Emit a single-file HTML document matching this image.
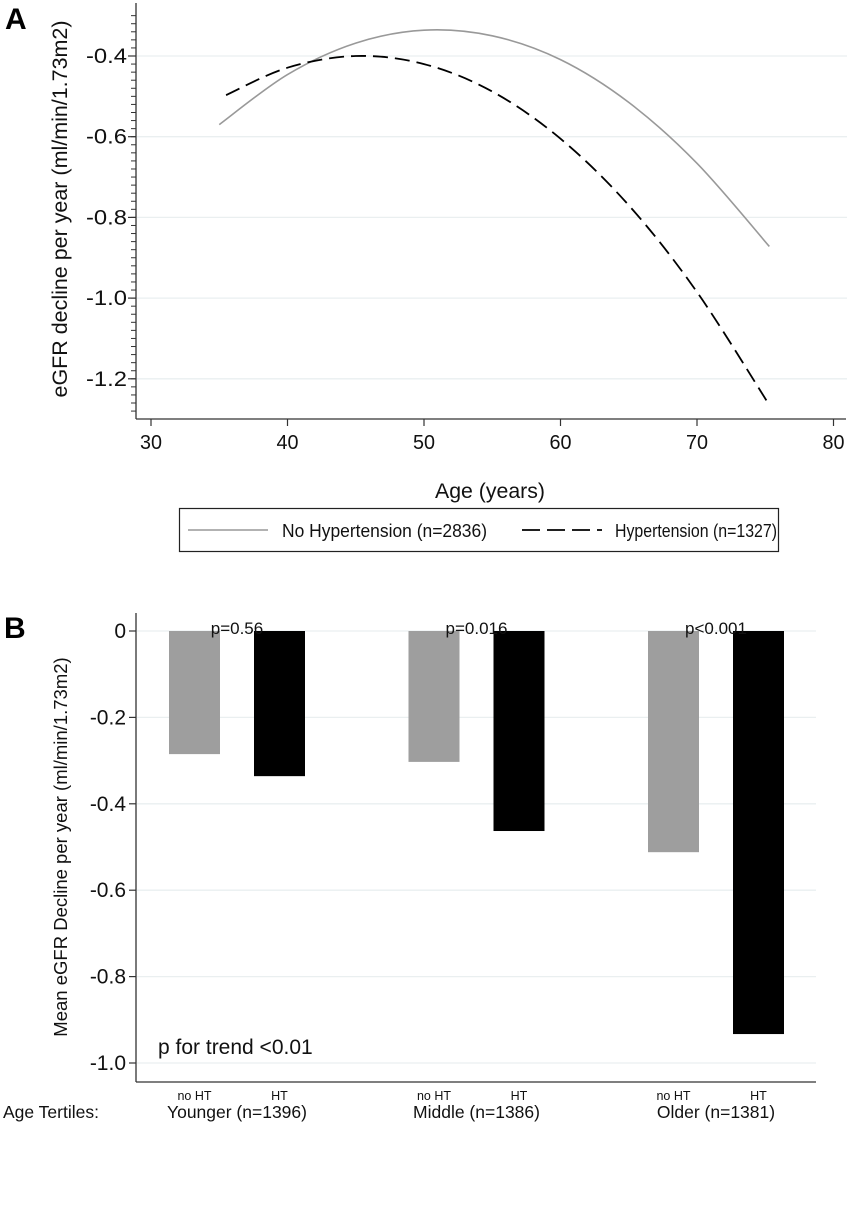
<!DOCTYPE html>
<html><head><meta charset="utf-8">
<style>
html,body{margin:0;padding:0;background:#fff;}
svg{display:block;font-family:"Liberation Sans",Arial,sans-serif;}
</style></head>
<body>
<svg id="fig" width="850" height="1215" viewBox="0 0 850 1215">
<g id="panelA"></g>
<g id="panelB"></g>
</svg>
<script>
// ---- Panel A data ----
const agesNoHT = [35, 40, 45, 50, 55, 60, 65, 70, 75.3];
const valsNoHT = [-0.570, -0.446, -0.368, -0.336, -0.350, -0.409, -0.515, -0.666, -0.872];
const agesHT = [35.5, 40, 45, 50, 55, 60, 65, 70, 75.3];
const valsHT = [-0.497, -0.429, -0.400, -0.420, -0.488, -0.605, -0.770, -0.985, -1.265];
const xTicksA = [30, 40, 50, 60, 70, 80];
const yTicksA = [-0.4, -0.6, -0.8, -1.0, -1.2];
const yTickLabelsA = ["-0.4", "-0.6", "-0.8", "-1.0", "-1.2"];

// ---- Panel B data ----
const groups = ["Younger (n=1396)", "Middle (n=1386)", "Older (n=1381)"];
const meanNoHT = [-0.285, -0.303, -0.512];
const meanHT = [-0.336, -0.463, -0.933];
const pValues = ["p=0.56", "p=0.016", "p<0.001"];
const yTicksB = [0, -0.2, -0.4, -0.6, -0.8, -1.0];
const yTickLabelsB = ["0", "-0.2", "-0.4", "-0.6", "-0.8", "-1.0"];

const NS = "http://www.w3.org/2000/svg";
function mk(parent, tag, attrs, text) {
  const e = document.createElementNS(NS, tag);
  for (const k in attrs) e.setAttribute(k, attrs[k]);
  if (text !== undefined) e.textContent = text;
  parent.appendChild(e);
  return e;
}

// ===== Panel A =====
const A = document.getElementById("panelA");
const xA = v => 151 + (v - 30) * 13.65;
const yA = v => 56 + (-0.4 - v) * 403.5;

yTicksA.forEach(t => {
  const g = mk(A, "line", {x1: 137, x2: 847, y1: yA(t), y2: yA(t), stroke: "#eaeff0", "stroke-width": 1.3});
  
  
});
for (let v = -0.3; v >= -1.3; v -= 0.02) {
  const y = yA(v);
  if (y < 4 || y > 417) continue;
  const m = mk(A, "line", {x1: 131, x2: 136, y1: y, y2: y, stroke: "#333", "stroke-width": 1});
  
  
}
let ax = mk(A, "line", {x1: 136, x2: 136, y1: 3, y2: 419, stroke: "#333", "stroke-width": 1.3});


ax = mk(A, "line", {x1: 136, x2: 846, y1: 419, y2: 419, stroke: "#333", "stroke-width": 1.3});



yTicksA.forEach((t, i) => {
  const tk = mk(A, "line", {x1: 128, x2: 136, y1: yA(t), y2: yA(t), stroke: "#333", "stroke-width": 1.2});
  
  
  const lb = mk(A, "text", {x: 127, y: yA(t) + 7, "text-anchor": "end", "font-size": 21, fill: "#111", textLength: 41, lengthAdjust: "spacingAndGlyphs"}, yTickLabelsA[i]);
  
  
});
xTicksA.forEach(t => {
  const tk = mk(A, "line", {x1: xA(t), x2: xA(t), y1: 419, y2: 426, stroke: "#333", "stroke-width": 1.2});
  
  
  const lb = mk(A, "text", {x: xA(t), y: 449, "text-anchor": "middle", "font-size": 20, fill: "#111", textLength: 22, lengthAdjust: "spacingAndGlyphs"}, String(t));
  
  
});
let t1 = mk(A, "text", {x: 490, y: 498, "text-anchor": "middle", "font-size": 21, fill: "#111", textLength: 110, lengthAdjust: "spacingAndGlyphs"}, "Age (years)");


t1 = mk(A, "text", {x: 0, y: 0, "text-anchor": "middle", "font-size": 21, fill: "#111", textLength: 377, lengthAdjust: "spacingAndGlyphs", transform: "translate(67,209) rotate(-90)"}, "eGFR decline per year (ml/min/1.73m2)");


t1 = mk(A, "text", {x: 5, y: 29, "font-size": 30, "font-weight": "bold", fill: "#000"}, "A");



function smoothPath(xs, ys) {
  const P = xs.map((x, i) => [xA(x), yA(ys[i])]);
  let d = "M" + P[0][0] + "," + P[0][1];
  for (let i = 0; i < P.length - 1; i++) {
    const p0 = P[i - 1] || P[i], p1 = P[i], p2 = P[i + 1], p3 = P[i + 2] || P[i + 1];
    const c1 = [p1[0] + (p2[0] - p0[0]) / 6, p1[1] + (p2[1] - p0[1]) / 6];
    const c2 = [p2[0] - (p3[0] - p1[0]) / 6, p2[1] - (p3[1] - p1[1]) / 6];
    d += " C" + c1 + " " + c2 + " " + p2;
  }
  return d;
}
let ln = mk(A, "path", {d: smoothPath(agesNoHT, valsNoHT), fill: "none", stroke: "#999", "stroke-width": 1.6});


ln = mk(A, "path", {d: smoothPath(agesHT, valsHT), fill: "none", stroke: "#000", "stroke-width": 1.8, "stroke-dasharray": "15 7"});



const lg = mk(A, "g", {});


mk(lg, "rect", {x: 179.5, y: 508.5, width: 599, height: 43, fill: "#fff", stroke: "#222", "stroke-width": 1.2});
let le = mk(lg, "line", {x1: 188, x2: 268, y1: 530, y2: 530, stroke: "#999", "stroke-width": 1.6});


le = mk(lg, "text", {x: 282, y: 537, "font-size": 18, fill: "#111", textLength: 205, lengthAdjust: "spacingAndGlyphs"}, "No Hypertension (n=2836)");


le = mk(lg, "line", {x1: 522, x2: 602, y1: 530, y2: 530, stroke: "#000", "stroke-width": 1.8, "stroke-dasharray": "18 7"});


le = mk(lg, "text", {x: 615, y: 537, "font-size": 18, fill: "#111", textLength: 162, lengthAdjust: "spacingAndGlyphs"}, "Hypertension (n=1327)");



// ===== Panel B =====
const B = document.getElementById("panelB");
const yB = v => 631 - v * 432;
const groupCenter = i => 237 + i * 239.5;
const barW = 51;

yTicksB.forEach((t, i) => {
  if (t !== 0) {
    const g = mk(B, "line", {x1: 137, x2: 816, y1: yB(t), y2: yB(t), stroke: "#eaeff0", "stroke-width": 1.3});
    
    
  }
  const tk = mk(B, "line", {x1: 129, x2: 136, y1: yB(t), y2: yB(t), stroke: "#333", "stroke-width": 1.2});
  
  
  const lb = mk(B, "text", {x: 126, y: yB(t) + 7, "text-anchor": "end", "font-size": 21, fill: "#111"}, yTickLabelsB[i]);
  
  
});
let g0 = mk(B, "line", {x1: 137, x2: 816, y1: yB(0), y2: yB(0), stroke: "#eaeff0", "stroke-width": 1.3});



groups.forEach((name, i) => {
  const c = groupCenter(i);
  const xn = c - 42.5 - barW / 2, xh = c + 42.5 - barW / 2;
  let b = mk(B, "rect", {x: xn, y: yB(0), width: barW, height: yB(meanNoHT[i]) - yB(0), fill: "#9e9e9e"});
  
  
  b = mk(B, "rect", {x: xh, y: yB(0), width: barW, height: yB(meanHT[i]) - yB(0), fill: "#000"});
  
  
  let p = mk(B, "text", {x: c, y: 634, "text-anchor": "middle", "font-size": 17, fill: "#111"}, pValues[i]);
  
  
  p = mk(B, "text", {x: c - 42.5, y: 1100, "text-anchor": "middle", "font-size": 12.5, fill: "#111"}, "no HT");
  
  
  p = mk(B, "text", {x: c + 42.5, y: 1100, "text-anchor": "middle", "font-size": 12.5, fill: "#111"}, "HT");
  
  
  p = mk(B, "text", {x: c, y: 1118, "text-anchor": "middle", "font-size": 17.5, fill: "#111"}, name);
  
  
});

ax = mk(B, "line", {x1: 136, x2: 136, y1: 613, y2: 1082, stroke: "#333", "stroke-width": 1.3});


ax = mk(B, "line", {x1: 136, x2: 816, y1: 1082, y2: 1082, stroke: "#333", "stroke-width": 1.3});



t1 = mk(B, "text", {x: 0, y: 0, "text-anchor": "middle", "font-size": 18.5, fill: "#111", transform: "translate(67,847) rotate(-90)"}, "Mean eGFR Decline per year (ml/min/1.73m2)");


t1 = mk(B, "text", {x: 158, y: 1054, "font-size": 21, fill: "#111"}, "p for trend <0.01");


t1 = mk(B, "text", {x: 3, y: 1118, "font-size": 17.5, fill: "#111"}, "Age Tertiles:");


t1 = mk(B, "text", {x: 4, y: 638, "font-size": 30, "font-weight": "bold", fill: "#000"}, "B");


</script>
</body></html>
